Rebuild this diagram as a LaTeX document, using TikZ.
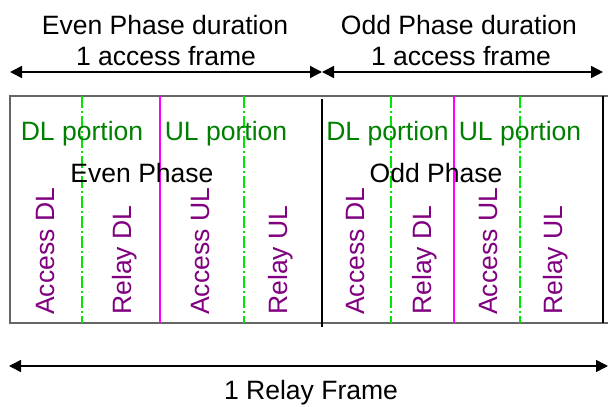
\documentclass[tikz,border=0pt]{standalone}
\usepackage{fontspec}
\setmainfont{Liberation Sans}
\usepackage{xcolor}
\usetikzlibrary{arrows.meta}

\definecolor{portiongreen}{RGB}{0,128,0}
\definecolor{splitgreen}{RGB}{0,230,0}
\definecolor{slotpurple}{RGB}{128,0,128}
\definecolor{halfmagenta}{RGB}{255,0,255}

\tikzset{
  lbl/.style={font=\fontsize{19.9}{22}\selectfont,inner sep=0pt,anchor=base},
  portion/.style={lbl,text=portiongreen},
  slot/.style={lbl,text=slotpurple,rotate=90,anchor=base west},
  split/.style={splitgreen,line width=1.1pt,dash pattern=on 9pt off 2.5pt on 1pt off 2.5pt},
  dur/.style={{Triangle[length=9pt,width=9pt]}-{Triangle[length=9pt,width=9pt]},line width=1.1pt},
}

\begin{document}
\begin{tikzpicture}[x=0.75pt,y=-0.75pt]
\useasboundingbox (0,0) rectangle (608,407);
% durations on top
\coordinate (evenL) at (10,72);
\coordinate (mid) at (322,72);
\coordinate (oddR) at (603,72);
\draw[dur] (evenL) -- (mid);
\draw[dur] (mid) -- (oddR);
\node[lbl] (evendur) at (165,35) {Even Phase duration};
\node[lbl] (evenacc) at (166,65) {1 access frame};
\node[lbl] (odddur) at (459,35) {Odd Phase duration};
\node[lbl] (oddacc) at (461,65) {1 access frame};
% frame box
\draw[gray!80!black,line width=1.1pt] (608,96) -- (10,96) -- (10,323) -- (608,323);
\draw[line width=1.3pt] (603,96) -- (603,323);
\draw[line width=1.3pt] (322,99) -- (322,327);
\foreach \x in {82,244,391,520}
  \draw[split] (\x,96) -- (\x,323);
\foreach \x in {160,454}
  \draw[halfmagenta,line width=1.5pt] (\x,96) -- (\x,323);
% portions and phases
\node[portion] (evendl) at (82,140) {DL portion};
\node[portion] (evenul) at (226,140) {UL portion};
\node[portion] (odddl) at (387.5,140) {DL portion};
\node[portion] (oddul) at (520,140) {UL portion};
\node[lbl] (evenph) at (142,182) {Even Phase};
\node[lbl] (oddph) at (436,182) {Odd Phase};
% slots
\node[slot] (evenadl) at (55,315) {Access DL};
\node[slot] (evenrdl) at (131,315) {Relay DL};
\node[slot] (evenaul) at (209,315) {Access UL};
\node[slot] (evenrul) at (287,315) {Relay UL};
\node[slot] (oddadl) at (364,315) {Access DL};
\node[slot] (oddrdl) at (431,315) {Relay DL};
\node[slot] (oddaul) at (497,315) {Access UL};
\node[slot] (oddrul) at (562,315) {Relay UL};
% relay frame
\coordinate (relL) at (9,366);
\coordinate (relR) at (608,366);
\draw[dur] (relL) -- (relR);
\node[lbl] (relay) at (311,399) {1 Relay Frame};
\end{tikzpicture}
\end{document}
